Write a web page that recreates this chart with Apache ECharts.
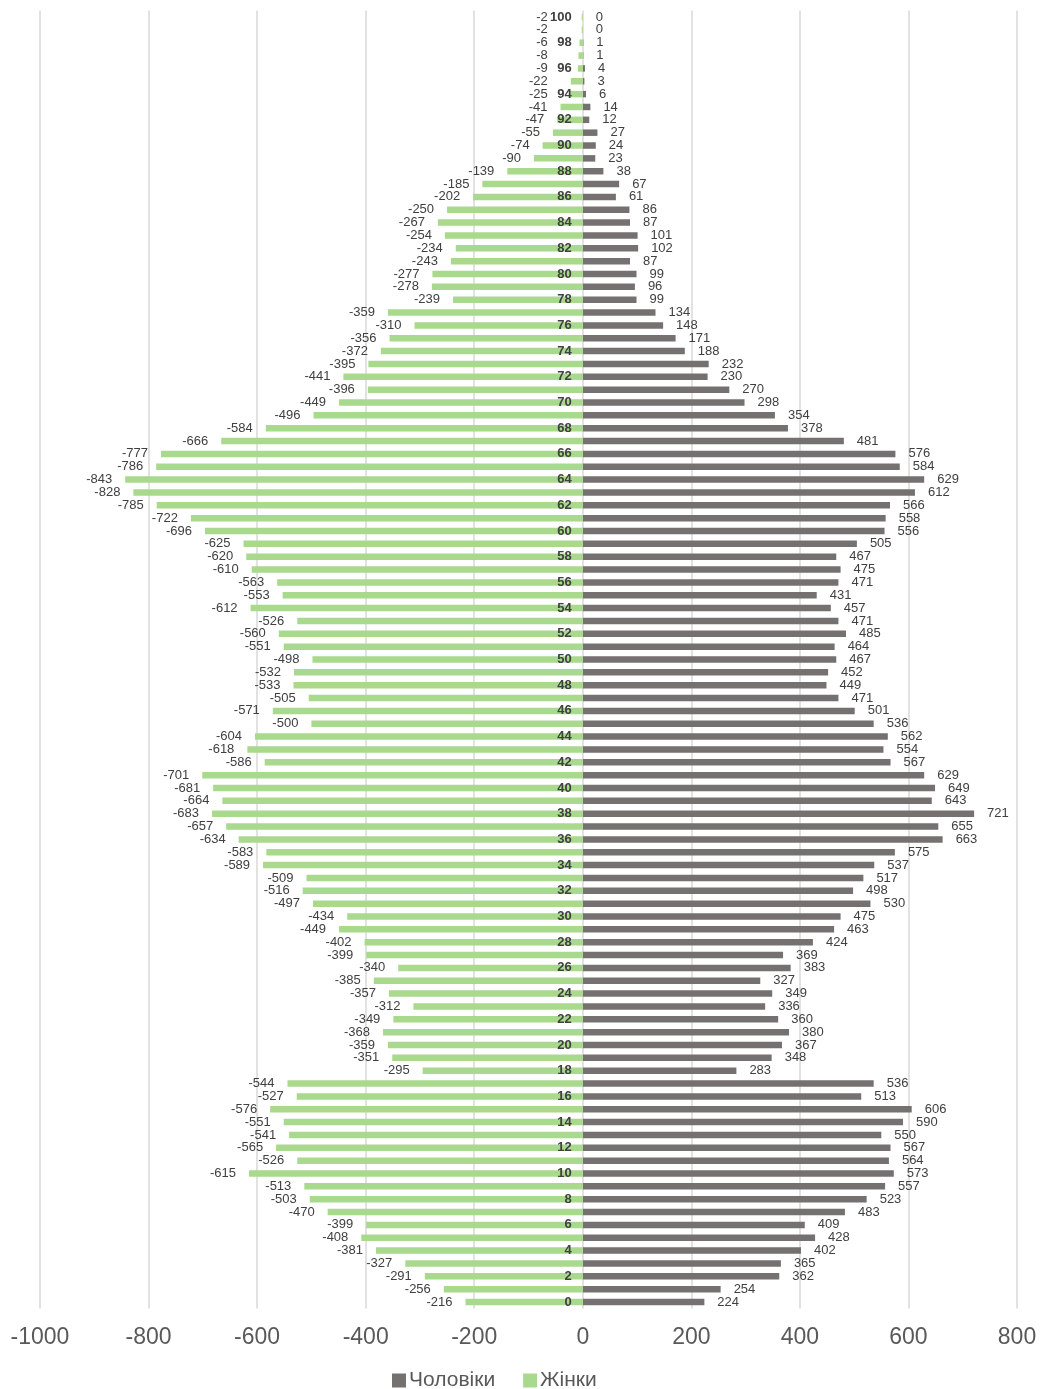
<!DOCTYPE html>
<html>
<head>
<meta charset="utf-8">
<script src="https://cdn.jsdelivr.net/npm/echarts@6/dist/echarts.min.js"></script>
<style>html,body{margin:0;padding:0;background:#fff}#c{width:1040px;height:1389px}</style>
</head>
<body>
<div id="c"></div>
<script>
// ages 0..100 (bottom to top)
const ages = [];
for (let a = 0; a <= 100; a++) ages.push(String(a));

// Women (negative), age 0..100
const women = [-216,-256,-291,-327,-381,-408,-399,-470,-503,-513,
  -615,-526,-565,-541,-551,-576,-527,-544,-295,-351,
  -359,-368,-349,-312,-357,-385,-340,-399,-402,-449,
  -434,-497,-516,-509,-589,-583,-634,-657,-683,-664,
  -681,-701,-586,-618,-604,-500,-571,-505,-533,-532,
  -498,-551,-560,-526,-612,-553,-563,-610,-620,-625,
  -696,-722,-785,-828,-843,-786,-777,-666,-584,-496,
  -449,-396,-441,-395,-372,-356,-310,-359,-239,-278,
  -277,-243,-234,-254,-267,-250,-202,-185,-139,-90,
  -74,-55,-47,-41,-25,-22,-9,-8,-6,-2,-2];

// Men, age 0..100
const men = [224,254,362,365,402,428,409,483,523,557,
  573,564,567,550,590,606,513,536,283,348,
  367,380,360,336,349,327,383,369,424,463,
  475,530,498,517,537,575,663,655,721,643,
  649,629,567,554,562,536,501,471,449,452,
  467,464,485,471,457,431,471,475,467,505,
  556,558,566,612,629,584,576,481,378,354,
  298,270,230,232,188,171,148,134,99,96,
  99,87,102,101,87,86,61,67,38,23,
  24,27,12,14,6,3,4,1,1,0,0];

const seriesNames = ['Чоловіки', 'Жінки'];
const xTicks = { min: -1000, max: 800, interval: 200 };

const FONT = '"Liberation Sans", Arial, sans-serif';
const W = 1040, GL = 40, GR = 23;
const zeroOffset = (W - GL - GR) * (0 - xTicks.min) / (xTicks.max - xTicks.min);
const zeroX = GL + zeroOffset;
const labelCapX = zeroX - 35; // women's labels kept clear of the age labels

const chart = echarts.init(document.getElementById('c'), null, { renderer: 'canvas' });
chart.setOption({
  animation: false,
  backgroundColor: '#ffffff',
  textStyle: { fontFamily: FONT },
  grid: { left: GL, right: GR, top: 10.6, bottom: 80.6, containLabel: false },
  legend: {
    data: seriesNames,
    left: 387, top: 1365,
    icon: 'rect', itemWidth: 14, itemHeight: 14, itemGap: 28,
    textStyle: { fontSize: 21, color: '#595959', fontFamily: FONT, padding: [0, 0, 0, -2] }
  },
  xAxis: {
    type: 'value',
    min: xTicks.min, max: xTicks.max, interval: xTicks.interval,
    axisLine: { show: false },
    axisTick: { show: false },
    splitLine: { show: true, lineStyle: { color: '#d9d9d9', width: 1.5 } },
    axisLabel: { fontSize: 23, color: '#595959', margin: 18, fontFamily: FONT,
      formatter: v => String(v) }
  },
  yAxis: {
    type: 'category',
    data: ages,
    z: 10,
    position: 'left',
    offset: -zeroOffset,
    axisLine: { show: false, onZero: false },
    axisTick: { show: false },
    axisLabel: { interval: 1, fontSize: 13, fontWeight: 'bold', color: '#404040', margin: 11, fontFamily: FONT }
  },
  series: [
    {
      name: seriesNames[0], type: 'bar', data: men, barWidth: 6.5, barGap: '-100%',
      itemStyle: { color: '#767171' },
      label: { show: true, position: 'right', distance: 13, fontSize: 13, color: '#404040', fontFamily: FONT }
    },
    {
      name: seriesNames[1], type: 'bar', data: women, barWidth: 6.5, barGap: '-100%',
      itemStyle: { color: '#a9d98c' },
      label: { show: true, position: 'left', distance: 13, fontSize: 13, color: '#404040', fontFamily: FONT },
      labelLayout: function (p) {
        const r = p.labelRect;
        if (r.x + r.width > labelCapX) {
          return { x: labelCapX, y: r.y + r.height / 2, align: 'right', verticalAlign: 'middle' };
        }
        return {};
      }
    }
  ]
});
</script>
</body>
</html>
